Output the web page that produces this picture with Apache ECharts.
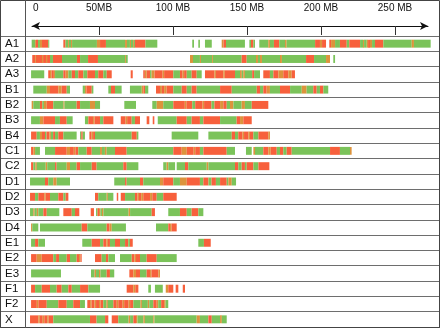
<!DOCTYPE html>
<html><head><meta charset="utf-8">
<script src="https://cdn.jsdelivr.net/npm/echarts@6/dist/echarts.min.js"></script>
<style>html,body{margin:0;padding:0;background:#fff}#c{width:440px;height:329px}</style>
</head><body><div id="c"></div>
<script>
const chromosomes = ['A1','A2','A3','B1','B2','B3','B4','C1','C2','D1','D2','D3','D4','E1','E2','E3','F1','F2','X'];
const tickValues = [0, 50, 100, 150, 200, 250];
const tickLabels = ['0', '50MB', '100 MB', '150 MB', '200 MB', '250 MB'];
// segment classes: 0 = green, 1 = red, 2 = mixed/orange ; [startMB, endMB, class]
const A1 = [[4.5,6.8,0],[6.8,7.4,2],[7.4,8.8,1],[8.8,10.1,0],[10.1,11.5,2],[11.5,15.7,1],[15.7,16.4,0],
[25.9,27.4,1],[27.4,29.1,0],[29.1,29.7,2],[29.7,31.1,0],[31.1,31.8,2],[31.8,48.6,0],[48.6,50.7,2],[50.7,54.7,1],[54.7,67.6,0],[67.6,68.9,2],[68.9,70.9,0],[70.9,71.6,2],[71.6,73.0,0],[73.0,73.6,2],[73.6,74.3,0],[74.3,81.4,1],[81.4,89.4,0],
[113.0,114.2,0],[117.1,118.2,0],[121.6,126.2,0],
[132.9,134.1,2],[134.1,135.8,1],[135.8,148.6,0],
[151.6,152.7,0],[152.7,154.3,1],[154.3,155.4,0],
[158.3,164.4,0],[164.4,165.5,2],[165.5,168.2,0],[168.2,171.8,1],[171.8,175.7,0],[175.7,176.8,2],[176.8,196.0,0],[196.0,199.3,1],[199.3,200.7,2],[200.7,203.4,1],
[205.6,206.8,1],[206.8,209.5,2],[209.5,212.8,0],[212.8,217.4,1],[217.4,219.1,0],[219.1,226.4,1],[226.4,228.4,0],[228.4,229.1,2],[229.1,230.9,0],[230.9,231.8,2],[231.8,233.1,1],[233.1,234.5,2],[234.5,236.5,0],[236.5,242.1,1],[242.1,261.3,0],[261.3,262.8,2],[262.8,274.1,0]];
const A2 = [[4.9,6.8,1],[6.8,7.4,2],[7.4,11.5,1],[11.5,12.2,2],[12.2,14.2,1],[14.2,14.9,2],[14.9,16.9,1],[16.9,18.9,0],[18.9,25.0,1],[25.0,35.1,0],[35.1,37.2,1],[37.2,42.6,0],[42.6,49.3,1],[49.3,67.6,0],[67.6,68.2,2],[68.2,69.4,0],
[111.5,113.5,2],[113.5,118.2,0],[118.2,118.9,2],[118.9,126.4,0],[126.4,127.0,2],[127.0,146.4,0],[146.4,149.8,1],[149.8,156.1,0],[156.1,157.4,2],[157.4,158.8,0],[158.8,160.1,2],[160.1,172.3,0],[172.3,173.6,2],[173.6,189.9,0],[189.9,195.3,1],[195.3,203.4,0],[203.4,206.1,2],
[208.3,209.5,0]];
const A3 = [[4.1,13.0,0],
[15.7,16.9,1],[16.9,18.0,2],[18.0,19.5,1],[19.5,20.3,2],[20.3,25.9,0],[25.9,27.5,1],[27.5,29.3,2],[29.3,31.6,0],[31.6,33.8,1],[33.8,36.0,0],[36.0,39.4,1],[39.4,42.1,0],[42.1,47.3,1],[47.3,49.5,0],[49.5,52.9,1],[52.9,55.2,0],[55.2,58.6,1],
[71.4,72.8,1],
[79.9,81.0,1],[81.0,82.2,2],[82.2,84.5,1],[84.5,85.5,0],[85.5,87.5,2],[87.5,93.0,1],[93.0,94.0,2],[94.0,100.2,1],[100.2,104.7,0],[104.7,106.5,1],[106.5,107.5,2],[107.5,109.3,1],[109.3,112.6,0],[112.6,116.0,1],[116.0,119.4,0],
[121.6,128.0,1],[128.0,129.0,2],[129.0,134.0,1],[134.0,135.0,2],[135.0,141.9,1],[141.9,145.3,0],[145.3,146.5,2],[146.5,147.5,0],[147.5,148.6,2],[148.6,153.5,0],[153.5,154.8,1],[154.8,158.8,0],
[161.0,165.5,1],[165.5,167.8,0],[167.8,171.2,1],[171.2,174.5,2],[174.5,177.9,1],[177.9,180.2,2],[180.2,182.4,1]];
const B1 = [[5.6,14.7,0],[14.7,16.9,2],[16.9,22.5,1],[22.5,24.8,2],[24.8,28.2,1],[28.2,30.4,0],
[39.0,40.5,0],[40.5,41.5,2],[41.5,45.1,1],[45.1,46.2,0],
[56.3,58.1,0],[58.1,60.8,1],[60.8,65.3,0],
[70.9,78.9,0],[78.9,80.0,2],[80.0,81.1,1],[81.1,83.3,0],
[88.5,91.2,1],[91.2,92.5,2],[92.5,94.0,1],[94.0,95.7,2],[95.7,100.2,1],[100.2,105.9,0],[105.9,109.3,1],[109.3,112.6,0],[112.6,116.0,1],[116.0,131.8,0],[131.8,139.7,1],[139.7,156.6,0],[156.6,158.8,1],[158.8,161.0,0],[161.0,163.3,1],[163.3,165.5,2],[165.5,172.3,0],[172.3,179.1,1],[179.1,187.0,0],[187.0,190.3,2],[190.3,194.8,0],[194.8,197.1,1],[197.1,199.3,0],[199.3,201.6,1],[201.6,204.9,0]];
const B2 = [[4.5,5.6,2],[5.6,10.1,0],[10.1,11.7,1],[11.7,12.8,0],[12.8,14.7,2],[14.7,19.1,1],[19.1,26.0,0],[26.0,26.7,2],[26.7,34.9,0],[34.9,37.2,1],[37.2,43.9,0],[43.9,47.3,2],[47.3,50.7,0],
[67.1,75.0,0],
[86.0,89.0,0],[89.0,93.4,2],[93.4,100.2,0],[100.2,108.0,1],[108.0,109.0,2],[109.0,113.0,1],[113.0,115.0,0],[115.0,120.0,1],[120.0,121.0,2],[121.0,126.0,1],[126.0,128.0,0],[128.0,131.8,1],[131.8,134.0,2],[134.0,136.3,1],[136.3,138.5,0],[138.5,140.8,2],[140.8,146.4,0],[146.4,148.6,2],[148.6,153.2,0],[153.2,164.4,1]];
const B3 = [[4.1,10.1,0],[10.1,12.4,2],[12.4,20.3,1],[20.3,23.6,0],[23.6,28.2,1],[28.2,32.2,0],
[40.5,42.8,0],[42.8,46.0,1],[46.0,47.0,2],[47.0,50.7,1],[50.7,52.9,0],[52.9,59.7,1],
[64.7,68.0,1],[68.0,69.0,2],[69.0,72.1,1],[72.1,74.3,0],[74.3,77.7,1],
[82.2,84.0,1],[86.3,87.4,1],
[89.7,102.5,0],[102.5,109.3,1],[109.3,112.6,0],[112.6,118.2,1],[118.2,120.5,0],[120.5,131.8,1],[131.8,143.0,0],[143.0,145.3,1],[145.3,147.5,2],[147.5,153.2,1]];
const B4 = [[4.1,7.9,1],[7.9,10.1,0],[10.1,11.5,2],[11.5,13.5,1],[13.5,14.5,0],[14.5,16.5,1],[16.5,17.5,2],[17.5,19.0,0],[19.0,20.3,1],[20.3,22.5,0],[22.5,25.9,1],[25.9,34.9,0],
[37.2,38.0,0],[38.0,39.0,1],[39.0,40.5,0],
[43.5,45.0,1],[45.0,46.0,2],[46.0,47.3,1],[47.3,72.1,0],[72.1,75.5,1],[75.5,76.6,0],
[99.1,117.1,0],
[123.9,139.7,0],[139.7,141.9,1],[141.9,144.1,0],[144.1,147.0,1],[147.0,148.0,2],[148.0,151.0,1],[151.0,152.0,2],[152.0,154.3,1],[154.3,157.7,0],[157.7,164.4,1],[164.4,165.5,2]];
const C1 = [[4.1,5.6,1],[5.6,6.8,2],[6.8,10.1,0],
[13.5,20.3,0],[20.3,28.2,1],[28.2,30.4,2],[30.4,33.0,1],[33.0,34.0,2],[34.0,36.0,1],[36.0,41.7,0],[41.7,45.1,1],[45.1,50.7,0],[50.7,52.0,2],[52.0,54.0,0],[54.0,55.2,2],[55.2,60.8,0],[60.8,68.7,1],[68.7,100.2,0],[100.2,105.9,1],[105.9,109.3,2],[109.3,114.0,1],[114.0,115.0,2],[115.0,118.2,1],[118.2,120.5,0],[120.5,136.3,1],[136.3,141.9,0],
[149.3,153.2,0],
[154.3,155.4,2],[155.4,161.0,0],[161.0,164.4,1],[164.4,166.0,2],[166.0,170.1,1],[170.1,172.3,0],[172.3,174.5,1],[174.5,176.8,0],[176.8,180.2,1],[180.2,206.1,0],[206.1,212.8,1],[212.8,219.6,0],[219.6,220.7,2]];
const C2 = [[4.1,5.6,1],[5.6,7.0,0],[7.0,8.0,2],[8.0,14.0,0],[14.0,15.0,2],[15.0,20.3,0],[20.3,21.4,1],[21.4,28.2,0],[28.2,30.4,2],[30.4,34.9,0],[34.9,37.2,1],[37.2,45.1,0],[45.1,48.4,1],[48.4,66.4,0],[66.4,68.7,1],[68.7,76.6,0],
[93.4,95.7,0],[95.7,96.8,2],[96.8,101.4,0],
[102.5,108.1,0],[108.1,110.3,1],[110.3,122.8,0],[122.8,123.9,2],[123.9,141.9,0],[141.9,144.1,1],[144.1,146.4,0],[146.4,148.6,1],[148.6,149.8,0],[149.8,154.3,1],[154.3,157.7,0],[157.7,165.1,1]];
const D1 = [[3.4,13.5,0],[13.5,15.7,1],[15.7,19.1,0],[19.1,21.4,2],[21.4,30.4,0],
[60.3,67.6,0],[67.6,68.7,1],[68.7,77.7,0],[77.7,79.9,1],[79.9,91.2,0],[91.2,93.4,2],[93.4,100.2,1],[100.2,104.7,0],[104.7,109.3,2],[109.3,118.2,1],[118.2,120.5,0],[120.5,124.0,1],[124.0,126.0,0],[126.0,129.0,1],[129.0,131.8,0],[131.8,136.3,1],[136.3,137.4,0],[137.4,139.7,2],[139.7,142.6,0]];
const D2 = [[3.4,6.8,1],[6.8,9.0,0],[9.0,13.0,1],[13.0,14.0,2],[14.0,16.9,1],[16.9,22.5,0],[22.5,25.9,1],[25.9,27.5,0],[27.5,29.3,1],
[47.3,49.5,1],[49.5,55.2,0],[55.2,56.0,2],[56.0,59.7,0],
[62.0,63.0,1],
[64.7,67.6,1],[67.6,74.3,0],[74.3,76.0,1],[76.0,77.0,2],[77.0,78.5,1],[78.5,79.9,2],[79.9,84.5,1],[84.5,86.0,2],[86.0,89.0,1],[89.0,93.4,0],[93.4,102.5,1]];
const D3 = [[3.4,5.6,0],[5.6,6.5,2],[6.5,8.0,0],[8.0,9.0,2],[9.0,12.4,0],[12.4,14.7,1],[14.7,23.2,0],
[25.9,31.6,1],[31.6,33.8,0],[33.8,36.7,1],
[44.4,46.6,1],
[48.0,49.0,0],[49.0,50.0,1],[50.0,51.0,2],[51.0,52.0,0],[52.0,53.0,2],[53.0,70.0,0],[70.0,71.0,2],[71.0,85.6,0],[85.6,87.8,1],
[96.8,104.7,0],[104.7,109.3,1],[109.3,112.6,0],[112.6,117.1,1],[117.1,120.5,0]];
const D4 = [[4.1,4.9,2],[4.9,9.0,0],
[10.1,38.3,0],[38.3,42.1,1],[42.1,55.2,0],[55.2,57.0,1],[57.0,58.6,2],[58.6,68.2,0],
[88.5,96.8,0],[96.8,98.0,1],[98.0,99.0,2],[99.0,102.5,1]];
const E1 = [[4.1,6.8,0],[6.8,9.0,1],[9.0,13.5,0],
[38.7,45.1,0],[45.1,50.7,1],[50.7,52.9,0],[52.9,55.0,1],[55.0,56.0,2],[56.0,57.4,1],[57.4,60.8,0],[60.8,64.2,1],[64.2,67.6,0],[67.6,69.8,1],[69.8,70.9,0],[70.9,72.8,1],
[117.1,120.9,0],[120.9,125.5,1]];
const E2 = [[4.1,7.9,1],[7.9,11.3,2],[11.3,19.1,1],[19.1,21.0,0],[21.0,23.0,1],[23.0,28.2,0],[28.2,30.4,1],[30.4,34.9,0],[34.9,36.5,1],[36.5,37.5,2],[37.5,38.3,1],
[47.3,51.8,1],[51.8,54.7,0],[54.7,56.3,1],[56.3,60.8,0],
[64.2,72.1,0],[72.1,74.0,1],[74.0,75.0,2],[75.0,77.7,1],[77.7,82.2,0],[82.2,89.0,1],[89.0,102.5,0]];
const E3 = [[4.1,24.3,0],
[44.6,47.0,0],[47.0,48.0,2],[48.0,50.0,0],[50.0,51.0,2],[51.0,55.2,0],[55.2,57.4,1],[57.4,60.3,0],
[70.5,73.2,1],[73.2,75.0,2],[75.0,77.7,1],[77.7,82.2,0],[82.2,84.5,1],[84.5,85.5,2],[85.5,90.1,1],[90.1,91.2,2]];
const F1 = [[4.1,6.8,1],[6.8,11.3,0],[11.3,16.9,1],[16.9,21.4,0],[21.4,24.8,1],[24.8,29.3,0],[29.3,31.6,1],[31.6,37.2,0],[37.2,42.8,1],[42.8,50.7,0],
[68.7,73.2,1],[73.2,74.5,2],[74.5,76.6,1],
[83.3,85.1,0],[87.8,93.1,0],[95.1,96.8,2],[96.8,100.2,1],[101.8,103.6,1],[106.6,108.1,1]];
const F2 = [[4.1,8.0,1],[8.0,9.0,2],[9.0,14.7,1],[14.7,22.5,0],[22.5,28.2,1],[28.2,32.6,0],[32.6,37.2,1],[37.2,40.5,0],
[42.1,44.0,1],[44.0,45.0,2],[45.0,47.0,1],[47.0,48.0,2],[48.0,50.0,1],[50.0,51.0,2],[51.0,52.9,1],[52.9,55.0,0],[55.0,56.0,2],[56.0,59.7,0],[59.7,62.0,1],[62.0,63.0,2],[63.0,66.0,1],[66.0,67.0,2],[67.0,70.0,1],[70.0,71.0,2],[71.0,73.2,1],[73.2,78.0,0],[78.0,79.0,2],[79.0,83.0,0],[83.0,84.0,2],[84.0,86.7,0],[86.7,89.0,1],[89.0,90.0,2],[90.0,92.0,0],[92.0,94.0,1],[94.0,95.0,2],[95.0,96.8,0]];
const X = [[3.4,9.0,1],[9.0,10.0,2],[10.0,12.0,1],[12.0,13.0,2],[13.0,15.0,1],[15.0,16.0,2],[16.0,19.1,1],[19.1,43.9,0],[43.9,48.4,1],[48.4,54.1,0],[54.1,56.3,1],
[58.6,63.0,1],[63.0,70.0,0],[70.0,71.0,2],[71.0,73.2,0],[73.2,75.0,1],[75.0,76.0,2],[76.0,80.0,0],[80.0,81.0,2],[81.0,86.7,0],[86.7,87.5,2],[87.5,116.0,0],[116.0,118.2,2],[118.2,123.9,0],[123.9,126.2,1],[126.2,131.8,0],[131.8,133.0,2],[133.0,136.3,0]];

const segments = {A1,A2,A3,B1,B2,B3,B4,C1,C2,D1,D2,D3,D4,E1,E2,E3,F1,F2,X};
const COLORS = ['#7bc35a', '#f7603c', '#dc933c'];

const data = [];
chromosomes.forEach((name, i) => {
  segments[name].forEach(s => data.push([i, s[0], s[1], s[2]]));
});

function renderItem(params, api) {
  const row = api.value(0);
  const p0 = api.coord([api.value(1), row]);
  const p1 = api.coord([api.value(2), row]);
  const h = api.size([0, 1])[1] * 0.52;
  return {
    type: 'rect',
    shape: { x: p0[0], y: p0[1] - h / 2, width: p1[0] - p0[0], height: h },
    style: { fill: COLORS[api.value(3)] }
  };
}

const chart = echarts.init(document.getElementById('c'), null, { renderer: 'canvas' });
chart.setOption({
  animation: false,
  backgroundColor: '#fff',
  grid: [
    { left: 0, right: 0, top: 36, bottom: 2 },
    { left: 32, right: 12, top: 16, height: 10 }
  ],
  xAxis: [
    { gridIndex: 0, type: 'value', min: -16.892, max: 280.405, show: false },
    { gridIndex: 1, type: 'value', min: 4.730, max: 272.297, position: 'top',
      axisLine: { show: true, lineStyle: { color: '#111', width: 1 }, symbol: ['arrow', 'arrow'], symbolSize: [6, 8] },
      axisTick: { show: true, inside: true, length: 9, customValues: tickValues.slice(1), lineStyle: { color: '#333' } },
      axisLabel: { show: true, customValues: tickValues.slice(1), margin: 3, fontSize: 10, color: '#111',
        fontFamily: 'Liberation Sans', formatter: v => tickLabels[tickValues.indexOf(v)] },
      splitLine: { show: false } }
  ],
  yAxis: [
    { gridIndex: 0, type: 'category', data: chromosomes, inverse: true,
      axisLine: { show: false }, axisTick: { show: false },
      axisLabel: { inside: true, margin: 5, fontSize: 11.5, color: '#111', fontFamily: 'Liberation Sans', interval: 0 },
      splitLine: { show: true, interval: 0, lineStyle: { color: '#6e6e6e', width: 1 } } },
    { gridIndex: 1, type: 'value', show: false }
  ],
  graphic: [
    { type: 'rect', shape: { x: 0.5, y: 0.5, width: 439, height: 327 }, style: { fill: 'none', stroke: '#444', lineWidth: 1 }, z: 10 },
    { type: 'line', shape: { x1: 25.5, y1: 0, x2: 25.5, y2: 328 }, style: { stroke: '#555', lineWidth: 1 }, z: 10 },
    { type: 'text', style: { text: tickLabels[0], x: 35.7, y: 13, align: 'center', verticalAlign: 'bottom', fontSize: 10, fontFamily: 'Liberation Sans', fill: '#111' } }
  ],
  series: [{ type: 'custom', xAxisIndex: 0, yAxisIndex: 0, data: data, encode: { x: [1, 2], y: 0 }, renderItem: renderItem }]
});
</script>
</body></html>
